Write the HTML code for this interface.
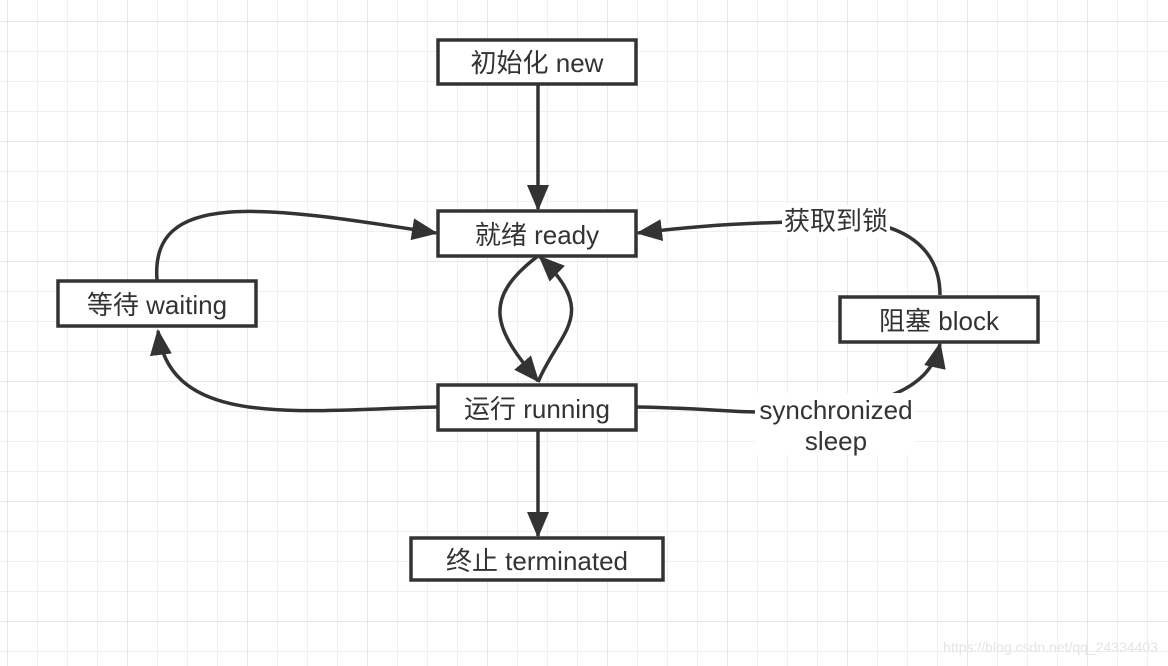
<!DOCTYPE html>
<html><head><meta charset="utf-8"><style>
html,body{margin:0;padding:0;background:#fff;}
svg{display:block;}
text{font-family:"Liberation Sans","Noto Sans CJK SC",sans-serif;font-size:26px;fill:#333;}
</style></head><body>
<svg width="1168" height="666" viewBox="0 0 1168 666" xmlns="http://www.w3.org/2000/svg">
<defs>
<pattern id="g" x="7" y="21" width="30" height="30" patternUnits="userSpaceOnUse">
<path d="M0 0H30M0 0V30" stroke="#f0f0f0" stroke-width="2" fill="none"/>
</pattern>
<pattern id="G" x="7" y="21" width="120" height="120" patternUnits="userSpaceOnUse">
<path d="M0 0H120M0 0V120" stroke="#e6e6e6" stroke-width="2" fill="none"/>
</pattern>
<marker id="a" markerWidth="26" markerHeight="22" refX="24" refY="11" orient="auto" markerUnits="userSpaceOnUse">
<path d="M0,0 L26,11 L0,22 Z" fill="#333"/>
</marker>
</defs>
<rect width="1168" height="666" fill="#fff"/>
<rect width="1168" height="666" fill="url(#g)"/>
<rect width="1168" height="666" fill="url(#G)"/>

<g stroke="#333" stroke-width="3.5" fill="none">
<path d="M538 85 V209" marker-end="url(#a)"/>
<path d="M538 431 V536" marker-end="url(#a)"/>
<path d="M437 407 C300 410 170 430 158 331" marker-end="url(#a)"/>
<path d="M157 280 C150 190 260 205 436 233" marker-end="url(#a)"/>
<path d="M538 256 C480 300 495 330 538 381" marker-end="url(#a)"/>
<path d="M538 382 C560 330 600 315 540 257" marker-end="url(#a)"/>
<path d="M637 407 C700 408 730 412 760 412 C880 412 930 390 940 344" marker-end="url(#a)"/>
<path d="M940 295 C940 260 920 235 880 225 L790 222 C720 224 680 228 638 233" marker-end="url(#a)"/>
</g>

<rect x="782" y="205" width="108" height="32" fill="#fff"/>
<text x="836" y="230" text-anchor="middle">获取到锁</text>
<rect x="755" y="393" width="160" height="62" fill="#fff"/>
<text x="836" y="419" text-anchor="middle">synchronized</text>
<text x="836" y="450" text-anchor="middle">sleep</text>

<g stroke="#333" stroke-width="3.5" fill="#fff">
<rect x="438" y="40" width="198" height="44"/>
<rect x="438" y="211" width="198" height="45"/>
<rect x="58" y="281" width="198" height="45"/>
<rect x="840" y="297" width="198" height="45"/>
<rect x="438" y="385" width="198" height="45"/>
<rect x="411" y="538" width="252" height="42"/>
</g>
<text x="537" y="72" text-anchor="middle">初始化 new</text>
<text x="537" y="244" text-anchor="middle">就绪 ready</text>
<text x="157" y="314" text-anchor="middle">等待 waiting</text>
<text x="939" y="330" text-anchor="middle">阻塞 block</text>
<text x="537" y="418" text-anchor="middle">运行 running</text>
<text x="537" y="570" text-anchor="middle">终止 terminated</text>
<text x="1158" y="652" text-anchor="end" style="font-size:14px;fill:#e4e4e4">https://blog.csdn.net/qq_24334403</text>
</svg>
</body></html>
